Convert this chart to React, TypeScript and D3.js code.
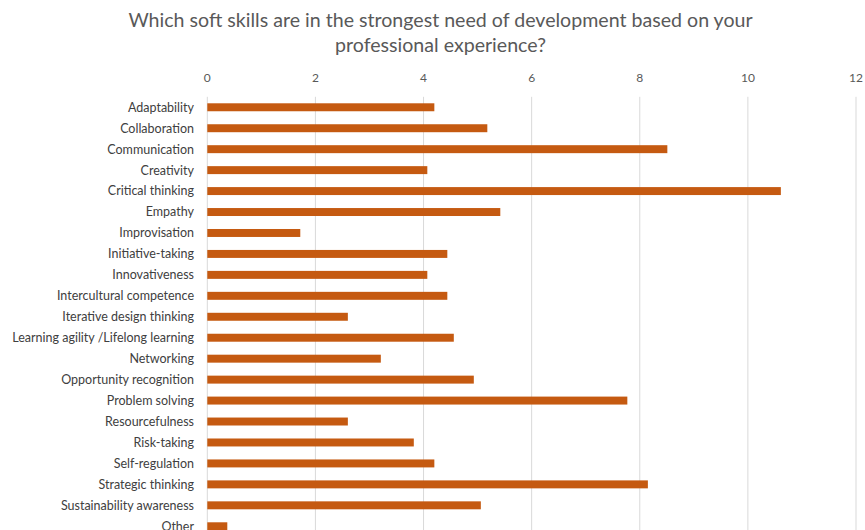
import React, { useEffect, useRef } from "react";
import * as d3 from "d3";

const categories = [
  "Adaptability",
  "Collaboration",
  "Communication",
  "Creativity",
  "Critical thinking",
  "Empathy",
  "Improvisation",
  "Initiative-taking",
  "Innovativeness",
  "Intercultural competence",
  "Iterative design thinking",
  "Learning agility /Lifelong learning",
  "Networking",
  "Opportunity recognition",
  "Problem solving",
  "Resourcefulness",
  "Risk-taking",
  "Self-regulation",
  "Strategic thinking",
  "Sustainability awareness",
  "Other",
];

const values = [
  4.2, 5.18, 8.51, 4.07, 10.61, 5.42, 1.72, 4.44, 4.07, 4.44, 2.6, 4.56, 3.21,
  4.93, 7.77, 2.6, 3.82, 4.2, 8.15, 5.06, 0.37,
];

const xTicks = [0, 2, 4, 6, 8, 10, 12];

const titleLines = [
  "Which soft skills are in the strongest need of development based on your",
  "professional experience?",
];

const W = 865;
const H = 530;
const FONT = "Lato, 'Open Sans', sans-serif";

export default function App() {
  const ref = useRef<SVGSVGElement | null>(null);

  useEffect(() => {
    document.body.style.margin = "0";
    const svg = d3.select(ref.current);
    svg.selectAll("*").remove();

    const left = 207.3;
    const right = 856;
    const top = 96.8;
    const step = 20.95;
    const bottom = top + step * categories.length;

    const x = d3.scaleLinear().domain([0, 12]).range([left, right]);
    const y = d3
      .scaleBand<string>()
      .domain(categories)
      .range([top, bottom])
      .paddingInner(0.62)
      .paddingOuter(0.31);

    svg
      .append("rect")
      .attr("width", W)
      .attr("height", H)
      .attr("fill", "#ffffff");

    // title
    svg
      .append("g")
      .selectAll("text")
      .data(titleLines)
      .join("text")
      .attr("x", 440.5)
      .attr("y", (_d, i) => 27 + i * 25)
      .attr("text-anchor", "middle")
      .attr("font-family", FONT)
      .attr("font-size", 19.6)
      .attr("fill", "#595959")
      .text((d) => d);

    // gridlines
    svg
      .append("g")
      .selectAll("line")
      .data(xTicks)
      .join("line")
      .attr("x1", (d) => x(d))
      .attr("x2", (d) => x(d))
      .attr("y1", top)
      .attr("y2", bottom)
      .attr("stroke", "#d9d9d9")
      .attr("stroke-width", 1);

    // tick labels
    svg
      .append("g")
      .selectAll("text")
      .data(xTicks)
      .join("text")
      .attr("x", (d) => x(d))
      .attr("y", 82)
      .attr("text-anchor", "middle")
      .attr("font-family", FONT)
      .attr("font-size", 12)
      .attr("fill", "#595959")
      .text((d) => String(d));

    // bars
    svg
      .append("g")
      .selectAll("rect")
      .data(categories)
      .join("rect")
      .attr("x", x(0))
      .attr("y", (d) => y(d) as number)
      .attr("width", (_d, i) => x(values[i]) - x(0))
      .attr("height", y.bandwidth())
      .attr("fill", "#c55a11");

    // category labels
    svg
      .append("g")
      .selectAll("text")
      .data(categories)
      .join("text")
      .attr("x", 194)
      .attr("y", (d) => (y(d) as number) + y.bandwidth() / 2)
      .attr("dy", "0.35em")
      .attr("text-anchor", "end")
      .attr("font-family", FONT)
      .attr("font-size", 12.5)
      .attr("fill", "#404040")
      .text((d) => d);
  }, []);

  return (
    <svg
      ref={ref}
      width={W}
      height={H}
      style={{ display: "block", overflow: "hidden" }}
    />
  );
}
